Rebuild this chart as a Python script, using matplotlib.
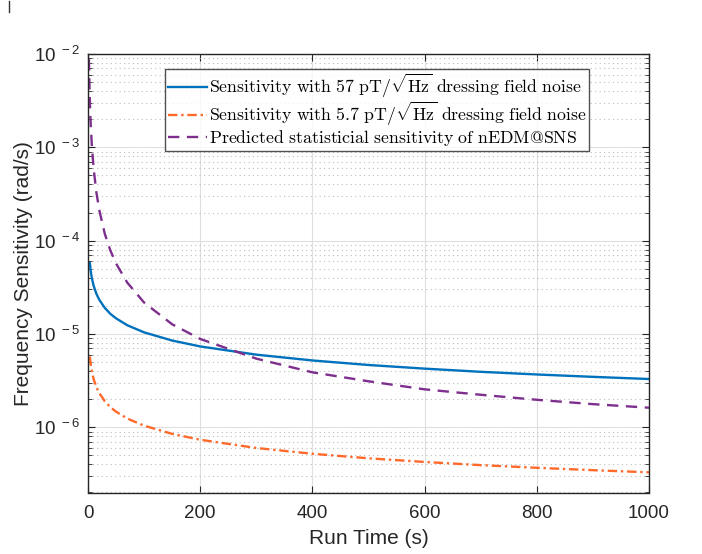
import matplotlib
matplotlib.use("Agg")
import matplotlib.pyplot as plt
from matplotlib.lines import Line2D
from matplotlib.ticker import LogLocator, FixedLocator, NullFormatter

# ---- data ----
t_noise = [3.3, 5, 7, 10, 15, 20, 30, 40, 50, 70, 100, 150, 200, 300, 400,
           500, 600, 700, 800, 900, 1000]
sens_57 = [5.73e-5, 4.65e-5, 3.93e-5, 3.29e-5, 2.69e-5, 2.33e-5, 1.90e-5,
           1.64e-5, 1.47e-5, 1.24e-5, 1.04e-5, 8.5e-6, 7.35e-6, 6.0e-6,
           5.2e-6, 4.65e-6, 4.25e-6, 3.93e-6, 3.68e-6, 3.47e-6, 3.29e-6]
sens_5p7 = [5.73e-6, 4.65e-6, 3.93e-6, 3.29e-6, 2.69e-6, 2.33e-6, 1.90e-6,
            1.64e-6, 1.47e-6, 1.24e-6, 1.04e-6, 8.5e-7, 7.35e-7, 6.0e-7,
            5.2e-7, 4.65e-7, 4.25e-7, 3.93e-7, 3.68e-7, 3.47e-7, 3.29e-7]
t_pred = [1.2, 1.5, 2, 3, 4, 5, 7, 10, 15, 20, 30, 40, 50, 70, 100, 150,
          200, 300, 400, 500, 600, 700, 800, 900, 1000]
sens_pred = [1.4e-2, 1.0e-2, 6.56e-3, 3.58e-3, 2.33e-3, 1.67e-3, 1.01e-3,
             5.95e-4, 3.27e-4, 2.14e-4, 1.18e-4, 7.8e-5, 5.69e-5, 3.55e-5,
             2.17e-5, 1.27e-5, 8.84e-6, 5.44e-6, 3.88e-6, 3.11e-6, 2.55e-6,
             2.23e-6, 1.97e-6, 1.77e-6, 1.62e-6]
x_ticks = [0, 200, 400, 600, 800, 1000]
y_ticks = [1e-6, 1e-5, 1e-4, 1e-3, 1e-2]
y_tick_labels = [r'$\mathregular{10^{\ -6}}$', r'$\mathregular{10^{\ -5}}$',
                 r'$\mathregular{10^{\ -4}}$', r'$\mathregular{10^{\ -3}}$',
                 r'$\mathregular{10^{\ -2}}$']
labels = [r'$\mathrm{Sensitivity\ with\ 57\ pT/\sqrt{Hz}\ dressing\ field\ noise}$',
          r'$\mathrm{Sensitivity\ with\ 5.7\ pT/\sqrt{Hz}\ dressing\ field\ noise}$',
          r'$\mathrm{Predicted\ statisticial\ sensitivity\ of\ nEDM@SNS}$']

plt.rcParams['font.family'] = ['Liberation Sans', 'DejaVu Sans']
plt.rcParams['mathtext.fontset'] = 'cm'

fig = plt.figure(figsize=(7.02, 5.54), dpi=100)
ax = fig.add_axes([88/702, 1-492.5/554, 561/702, 438.5/554])

c_blue = '#0072BD'
c_orange = '#FF6A2B'
c_purple = '#7E2F8E'

ax.plot(t_noise, sens_57, color=c_blue, lw=1.7, label=labels[0])
ax.plot(t_noise, sens_5p7, color=c_orange, lw=1.7, ls=(0, (4, 1.6, 1, 1.6)),
        label=labels[1])
ax.plot(t_pred, sens_pred, color=c_purple, lw=1.7, ls=(0, (4.8, 3.2)),
        label=labels[2])

ax.set_yscale('log')
ax.set_xlim(0, 1000)
ax.set_ylim(2e-7, 1e-2)
ax.xaxis.set_major_locator(FixedLocator(x_ticks))
ax.set_xticklabels([str(v) for v in x_ticks])
ax.yaxis.set_major_locator(FixedLocator(y_ticks))
ax.set_yticklabels(y_tick_labels)
ax.yaxis.set_minor_locator(LogLocator(base=10, subs=range(2, 10), numticks=20))
ax.yaxis.set_minor_formatter(NullFormatter())

ax.grid(True, which='major', color='#DFDFDF', lw=0.8, ls='-')
ax.grid(True, which='minor', axis='y', color='#BDBDBD', lw=0.8, ls=(0, (1, 3)))
ax.set_axisbelow(True)

axis_c = '#262626'
for s in ax.spines.values():
    s.set_color(axis_c)
    s.set_linewidth(1.0)
ax.tick_params(which='both', direction='in', top=True, right=True,
               colors=axis_c, labelcolor='#262626')
ax.tick_params(which='major', length=5, width=0.8, labelsize=13.5)
ax.tick_params(axis='x', which='major', pad=9)
ax.tick_params(axis='y', which='major', pad=6)
ax.tick_params(which='minor', length=3, width=0.6)

ax.set_xlabel('Run Time (s)', fontsize=15, color='#262626', va='center')
ax.set_ylabel('Frequency Sensitivity (rad/s)', fontsize=15, color='#262626',
              va='center')
ax.xaxis.set_label_coords(0.5, -(538 - 492.5) / 438.5)
ax.yaxis.set_label_coords(-(88 - 24) / 561, 0.5)

leg = ax.legend(loc='upper left', bbox_to_anchor=(0.137, 0.965), fontsize=12.8,
                frameon=True, fancybox=False, edgecolor='#262626',
                handlelength=2.2, handletextpad=0.12, borderpad=0.15,
                labelspacing=0.0, borderaxespad=0)
leg.get_frame().set_linewidth(1.0)

fig.add_artist(Line2D([9/702, 9/702], [1-1/554, 1-12/554], color='#333333', lw=1))

fig.savefig('out.png', dpi=100)
